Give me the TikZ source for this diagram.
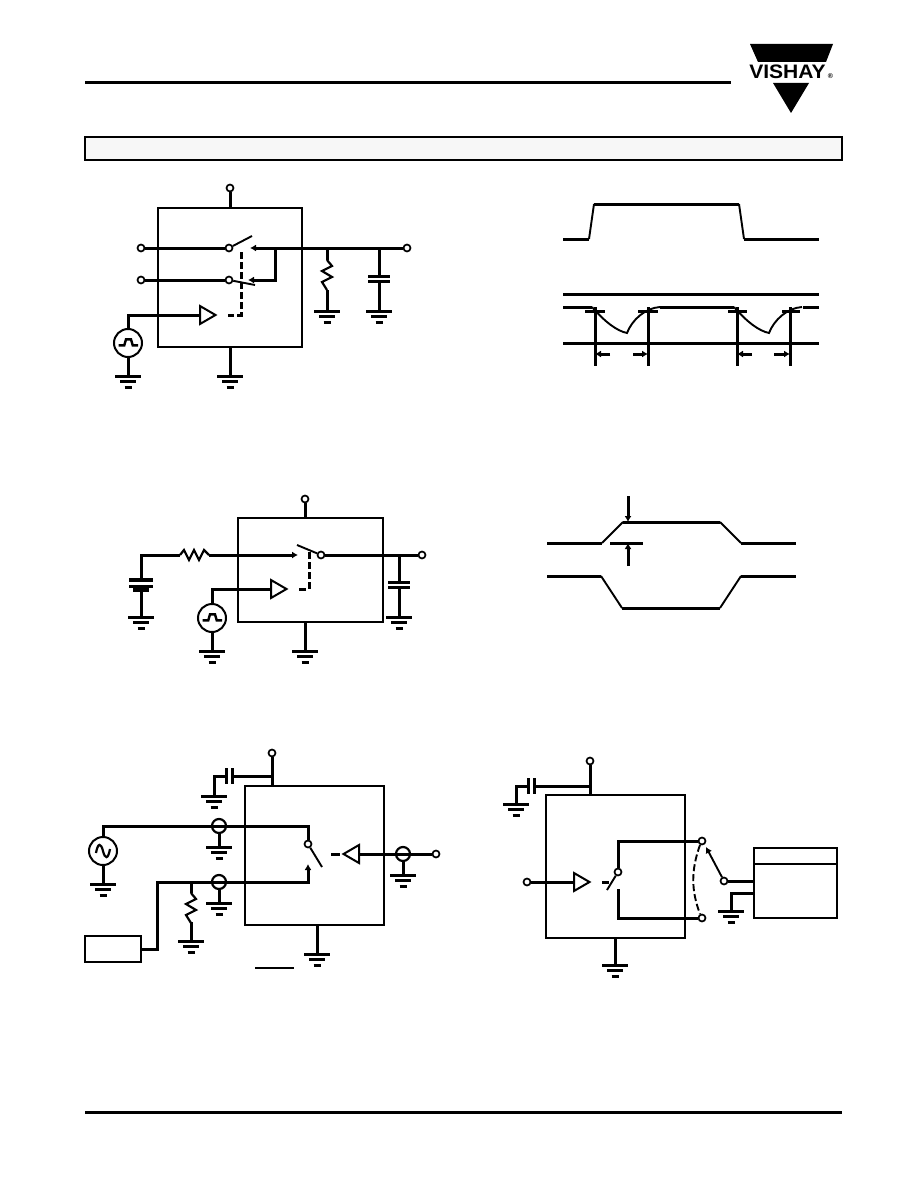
\documentclass[tikz,border=0pt]{standalone}
\usepackage{fontspec}
\newfontfamily\logofont[BoldFeatures={FakeBold=1.6}]{Liberation Sans Bold}
\usetikzlibrary{arrows.meta,positioning,calc}
\tikzset{
  wire/.style={line width=3pt},
  thinw/.style={line width=1.9pt},
  link/.style={line width=3pt,dash pattern=on 7pt off 3pt},
  chip/.style={draw,line width=1.8pt,inner sep=0pt,outer sep=0pt},
  term/.style={circle,draw,line width=1.7pt,inner sep=0pt,minimum size=7pt},
  coax/.style={circle,draw,line width=2.2pt,inner sep=0pt,minimum size=14pt},
  source/.style={circle,draw,line width=2pt,inner sep=0pt,minimum size=28pt},
  gnd/.pic={
    \draw[wire] (-13,0) -- (13,0);
    \draw[wire] (-8,5.5) -- (8,5.5);
    \draw[line width=3pt] (-3.5,11) -- (3.5,11);
  },
  resv/.pic={\draw[line width=2.2pt] (0,0) -- (5,6) -- (-5,11) -- (5,17) -- (-5,22) -- (0,30);},
  resh/.pic={\draw[line width=2.2pt] (0,0) -- (4,-5) -- (9,5) -- (14,-5) -- (19,5) -- (24,-5) -- (29,0);},
  capv/.pic={\draw[wire] (-11,0) -- (11,0) (-11,5.5) -- (11,5.5);},
  caph/.pic={\draw[wire] (0,-8) -- (0,8) (-5.5,-8) -- (-5.5,8);},
  bufr/.pic={\draw[line width=2pt] (0,-9) -- (15.5,0) -- (0,9) -- cycle;},
  pulse/.pic={\draw[line width=2.4pt] (-9.5,2.3) -- (-3.7,2.3) -- (-2,-3.7) -- (3,-3.7) -- (4.7,2.3) -- (10,2.3);},
  sine/.pic={\draw[line width=2.2pt] (-7,2) .. controls (-5,-9) and (-2,-8) .. (0,0) .. controls (2,8) and (5,9) .. (7,-2);}
}
\begin{document}
\begin{tikzpicture}[x=1pt,y=-1pt,>={Latex[length=6pt,width=7pt]}]
  \useasboundingbox (0,0) rectangle (918,1188);
  % page head and foot
  \coordinate (heada) at (85,83);
  \coordinate (headb) at (731,83);
  \coordinate (foota) at (85,1112);
  \coordinate (footb) at (842,1112);
  \draw[wire] (heada) -- (headb);
  \draw[wire] (foota) -- (footb);
  \node[chip,fill=black!3,minimum width=757pt,minimum height=23pt] (title) at (463.5,148.5) {};
  \fill (750,44) -- (833,44) -- (826,62) -- (758,62) -- cycle;
  \fill (773,83) -- (809,83) -- (791,113) -- cycle;
  \node[inner sep=0pt,xscale=1.08] (logotxt) at (787.5,72) {\logofont\bfseries\fontsize{19.5}{20}\selectfont VISHAY};
  \node[inner sep=0pt] (logoreg) at (830.5,76.5) {\logofont\fontsize{7}{7}\selectfont ®};

  % top left circuit
  \node[chip,minimum width=144pt,minimum height=139pt] (chipa) at (230,277.5) {};
  \foreach \nm/\x/\y in {vdda/230/188,ina/141/248,inb/141/280,swa/229/248,swb/229/280,outa/407/248}
    \node[term] (\nm) at (\x,\y) {};
  \foreach \nm/\x/\y in {ctca/250/248,ctcb/248/280,bla/252/236,blb/255/285,juna/275/248,junr/327/248,junc/379/248,
      rtop/327/260,rbot/327/290,ctop/379/276,cbot/379/281,bufa/200/315,tipa/228/315,lnka/241/252,cnra/241/315}
    \coordinate (\nm) at (\x,\y);
  \foreach \nm/\x/\y in {gnda/128/376,gndb/230/376,gndc/327/311,gndd/379/311}
    {\coordinate (\nm) at (\x,\y); \pic at (\nm) {gnd};}
  \node[source] (srca) at (128,343) {};
  \pic at (srca) {pulse};
  \pic at (bufa) {bufr};
  \pic at (rtop) {resv};
  \pic at (ctop) {capv};
  \draw[wire] (vdda) -- (chipa.north);
  \draw[wire] (chipa.south) -- (gndb);
  \draw[wire] (ina) -- (swa);
  \draw[wire] (inb) -- (swb);
  \draw[wire,->] (outa) -- (ctca);
  \draw[wire,->] (juna) |- (ctcb);
  \draw[thinw] (swa) -- (bla);
  \draw[thinw] (swb) -- (blb);
  \draw[wire] (junr) -- (rtop) (rbot) -- (gndc);
  \draw[wire] (junc) -- (ctop) (cbot) -- (gndd);
  \draw[wire] (srca) |- (bufa);
  \draw[wire] (srca) -- (gnda);
  \draw[link] (lnka) -- (cnra) -- (tipa);

  % top right waveforms
  \draw[wire] (563,239) -- (589,239) (594,204) -- (739,204) (744,239) -- (819,239);
  \draw[thinw] (589,239) -- (594,204) (739,204) -- (744,239);
  \draw[wire] (563,294) -- (819,294);
  \draw[wire] (563,343) -- (819,343);
  \draw[wire] (563,307) -- (592,307) (660,307) -- (734,307) (803,307) -- (819,307);
  \foreach \xo in {0,142}
    \draw[thinw] (592+\xo,307) .. controls (605+\xo,322) and (617+\xo,331) .. (627+\xo,333)
      .. controls (632+\xo,320) and (645+\xo,308) .. (660+\xo,307);
  \foreach \xv/\xa/\xl/\xr in {595/610/585/605,648/633/638/658,737/752/728/747,790/774/782/800} {
    \draw[wire] (\xv,307) -- (\xv,366);
    \draw[wire,->] (\xa,354) -- (\xv,354);
    \draw[wire] (\xl,311) -- (\xr,311);
  }

  % middle left circuit
  \node[chip,minimum width=145pt,minimum height=104pt] (chipb) at (310.5,570) {};
  \foreach \nm/\x/\y in {vddb/305/499,swc/321/555,outb/422/555}
    \node[term] (\nm) at (\x,\y) {};
  \foreach \nm/\x/\y in {ctcc/298/555,blc/297/545,rlft/180/555,rrgt/209/555,corb/141/555,junb/399/555,
      batt/141/580,batb/141/590,ctob/399/582,cbob/399/588,bufb/271/589,tipb/298/589,lnkb/309/552,cnrb/309/589}
    \coordinate (\nm) at (\x,\y);
  \foreach \nm/\x/\y in {gnde/141/617,gndf/399/617,gndg/212/651,gndh/305/651}
    {\coordinate (\nm) at (\x,\y); \pic at (\nm) {gnd};}
  \node[source] (srcb) at (212,618) {};
  \pic at (srcb) {pulse};
  \pic at (bufb) {bufr};
  \pic at (rlft) {resh};
  \pic at (ctob) {capv};
  \draw[line width=3.6pt] (129,580) -- (153,580) (133,590) -- (149,590);
  \draw[wire] (129,586) -- (153,586);
  \draw[wire] (vddb) -- (vddb |- chipb.north);
  \draw[wire] (vddb |- chipb.south) -- (gndh);
  \draw[wire] (batt) -- (corb) -- (rlft);
  \draw[wire] (batb) -- (gnde);
  \draw[wire,->] (rrgt) -- (ctcc);
  \draw[wire] (swc) -- (outb);
  \draw[thinw] (blc) -- (swc);
  \draw[wire] (junb) -- (ctob) (cbob) -- (gndf);
  \draw[wire] (srcb) |- (bufb);
  \draw[wire] (srcb) -- (gndg);
  \draw[link] (lnkb) -- (cnrb) -- (tipb);

  % middle right waveforms
  \draw[wire] (547,543) -- (602,543) (623,522) -- (720,522) (741,543) -- (796,543);
  \draw[thinw] (602,543) -- (623,522) (720,522) -- (741,543);
  \draw[wire] (547,576) -- (601,576) (622,608) -- (720,608) (741,576) -- (796,576);
  \draw[thinw] (601,576) -- (622,608) (720,608) -- (741,576);
  \draw[wire] (610,543) -- (643,543);
  \draw[wire,->] (628,496) -- (628,522);
  \draw[wire,->] (628,566) -- (628,543);

  % bottom left circuit
  \node[chip,minimum width=139pt,minimum height=139pt] (chipc) at (314.5,855.5) {};
  \foreach \nm/\x/\y in {vddc/272/753,swd/308/844,outc/436/854}
    \node[term] (\nm) at (\x,\y) {};
  \foreach \nm/\x/\y in {ctcd/308/864,bld/322/867,capc/232/776,corc/214/776,junv/272/776,cord/308/826,srct/103/826,
      core/308/882,corf/157/882,corg/157/949,junh/191/882,rtoc/191/893,rboc/191/922,bufc/359/854,tipc/331/854,tipd/340/854}
    \coordinate (\nm) at (\x,\y);
  \foreach \nm/\x/\y in {gndi/214/796,gndj/103/884,gndk/219/847,gndl/219/903,gndm/191/941,gndn/403/875,gndo/317/954}
    {\coordinate (\nm) at (\x,\y); \pic at (\nm) {gnd};}
  \node[source] (srcc) at (103,851) {};
  \node[coax] (coxa) at (219,826) {};
  \node[coax] (coxb) at (219,882) {};
  \node[coax] (coxc) at (403,854) {};
  \node[chip,minimum width=56pt,minimum height=26pt] (gena) at (113,949) {};
  \pic at (srcc) {sine};
  \pic[xscale=-1] at (bufc) {bufr};
  \pic at (rtoc) {resv};
  \pic at (capc) {caph};
  \draw[wire] (vddc) -- (vddc |- chipc.north);
  \draw[wire] (junv) -- (capc) (corc -| {$(capc)+(-5.5,0)$}) -- (corc) -- (gndi);
  \draw[wire] (srcc) -- (srct) -- (cord) -- (swd);
  \draw[wire] (srcc) -- (gndj);
  \draw[wire,->] (gena.east |- corg) -- (corg) -- (corf) -- (core) -- (ctcd);
  \draw[thinw] (swd) -- (bld);
  \draw[wire] (coxa) -- (gndk);
  \draw[wire] (coxb) -- (gndl);
  \draw[wire] (coxc) -- (gndn);
  \draw[wire] (junh) -- (rtoc);
  \draw[wire] (rboc) -- (gndm);
  \draw[wire] (outc) -- (bufc);
  \draw[wire] (tipc) -- (tipd);
  \draw[wire] (chipc.south -| gndo) -- (gndo);
  \coordinate (bara) at (255,968);
  \coordinate (barb) at (294,968);
  \draw[line width=1.4pt] (bara) -- (barb);

  % bottom right circuit
  \node[chip,minimum width=139pt,minimum height=143pt] (chipd) at (615.5,866.5) {};
  \foreach \nm/\x/\y in {vddd/590/761,ind/527/882,swe/618/872,swf/702/841,swg/702/918,outd/724/881}
    \node[term] (\nm) at (\x,\y) {};
  \foreach \nm/\x/\y in {ctce/618/889,ble/607/890,capd/534/786,cord/516/786,junw/590/786,corh/618/841,cori/618/918,
      bufd/574/882,tipe/602/882,tipf/609/882,arrd/706/847,dlda/700/845,dldb/700/914}
    \coordinate (\nm) at (\x,\y);
  \foreach \nm/\x/\y in {gndp/516/804,gndq/615/965,gndr/731/911}
    {\coordinate (\nm) at (\x,\y); \pic at (\nm) {gnd};}
  \node[chip,minimum width=83pt,minimum height=70pt] (scope) at (795.5,883) {};
  \coordinate (scoa) at (scope.west |- 0,864);
  \coordinate (scob) at (scope.east |- 0,864);
  \pic at (bufd) {bufr};
  \pic at (capd) {caph};
  \draw[thinw] (scoa) -- (scob);
  \draw[wire] (vddd) -- (vddd |- chipd.north);
  \draw[wire] (junw) -- (capd) (cord -| {$(capd)+(-5.5,0)$}) -- (cord) -- (gndp);
  \draw[wire] (ind) -- (bufd);
  \draw[wire] (tipe) -- (tipf);
  \draw[thinw] (swe) -- (ble);
  \draw[wire] (swe) -- (corh) -- (swf);
  \draw[wire] (ctce) -- (cori) -- (swg);
  \draw[thinw,->] (outd) -- (arrd);
  \draw[thinw,dash pattern=on 7pt off 3pt] (dlda) .. controls (691,870) and (691,890) .. (dldb);
  \draw[wire] (outd) -- (outd -| scope.west);
  \draw[wire] (scope.west |- 0,893) -- (731,893) -- (gndr);
  \draw[wire] (chipd.south -| gndq) -- (gndq);
\end{tikzpicture}
\end{document}
